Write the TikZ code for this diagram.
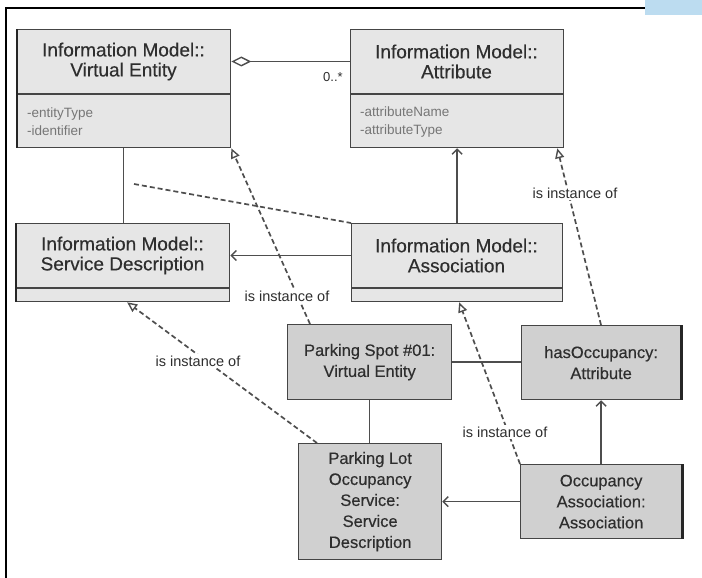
\documentclass[tikz,border=0pt]{standalone}
\usepackage{fontspec}
\setmainfont{Liberation Sans}
\newfontfamily\heavysans[FakeBold=0.35]{Liberation Sans}
\usetikzlibrary{arrows.meta}

\definecolor{boxline}{HTML}{454545}
\definecolor{modelfill}{HTML}{E6E6E6}
\definecolor{instfill}{HTML}{D0D0D0}
\definecolor{titletext}{HTML}{2E2E2E}
\definecolor{attrtext}{HTML}{767676}
\definecolor{linkgray}{HTML}{4E4E4E}
\definecolor{tabblue}{HTML}{BCDCF0}

\tikzset{
  modelbox/.style={draw=boxline, fill=modelfill, line width=1.3pt, inner sep=0pt,
    anchor=north west, rectangle},
  instbox/.style={draw=boxline, fill=instfill, line width=1.3pt, inner sep=0pt,
    anchor=north west, rectangle, align=center, text=titletext,
    font=\heavysans\fontsize{16.5}{21}\selectfont},
  classtitle/.style={align=center, text=titletext, inner sep=0pt,
    font=\heavysans\fontsize{19}{20}\selectfont},
  attrlist/.style={align=left, anchor=west, text=attrtext, inner sep=0pt,
    font=\fontsize{13.5}{18}\selectfont},
  divider/.style={draw=boxline, line width=1.4pt},
  thickedge/.style={draw=black!85, line width=2.6pt},
  solidlink/.style={draw=linkgray, line width=1.4pt},
  navarrow/.style={solidlink, -{Straight Barb[length=5pt, width=10pt, line width=1.4pt]}},
  aggregation/.style={solidlink, {Diamond[open, length=20pt, width=10pt, line width=1.4pt]}-},
  instanceof/.style={draw=linkgray, line width=1.7pt, dash pattern=on 5pt off 3pt,
    -{Triangle[open, length=10pt, width=9pt, line width=1.4pt]}},
  assocclass/.style={draw=linkgray, line width=1.7pt, dash pattern=on 5pt off 3pt},
  lbl/.style={fill=white, inner sep=1.5pt, text=titletext,
    font=\fontsize{14.5}{16}\selectfont},
}

\begin{document}
\begin{tikzpicture}[x=1pt, y=-1pt]
  \useasboundingbox (0,0) rectangle (702,578);

  % page frame and tab
  \fill[tabblue] (645,0) rectangle (702,15);
  \draw[line width=1.5pt] (6,578) -- (6,8) -- (645,8);

  % --- information model classes ---
  \node[modelbox, minimum width=213pt, minimum height=118pt] (ve) at (17,29) {};
  \draw[divider] (17,94) -- (230,94);
  \node[classtitle] (vet) at (123.5,61.5) {Information Model::\\Virtual Entity};
  \node[attrlist] (vea) at (27,122) {-entityType\\-identifier};

  \node[modelbox, minimum width=213pt, minimum height=118pt] (attr) at (350,29) {};
  \draw[divider] (350,94) -- (563,94);
  \node[classtitle] (attrt) at (456.5,61.5) {Information Model::\\Attribute};
  \node[attrlist] (attra) at (360,122) {-attributeName\\-attributeType};

  \node[modelbox, minimum width=213pt, minimum height=78pt] (sd) at (16,223) {};
  \draw[divider] (16,288) -- (229,288);
  \node[classtitle] (sdt) at (122.5,255.5) {Information Model::\\Service Description};

  \node[modelbox, minimum width=211pt, minimum height=78pt] (assoc) at (351,223) {};
  \draw[divider] (351,288) -- (562,288);
  \node[classtitle] (assoct) at (456.5,255.5) {Information Model::\\Association};

  % --- instances ---
  \node[instbox, minimum width=164pt, minimum height=75pt] (ps) at (287,324)
    {Parking Spot \#01:\\Virtual Entity};
  \node[instbox, minimum width=159pt, minimum height=74pt] (hocc) at (521,325)
    {hasOccupancy:\\Attribute};
  \node[instbox, minimum width=143pt, minimum height=116pt] (plot) at (298,443)
    {Parking Lot\\Occupancy\\Service:\\Service\\Description};
  \node[instbox, minimum width=161pt, minimum height=74pt] (oa) at (520,464)
    {Occupancy\\Association:\\Association};

  % heavier edges
  \draw[thickedge] (ve.north west) -- (ve.south west);
  \draw[thickedge] (sd.north west) -- (sd.south west);
  \draw[thickedge] (hocc.north east) -- (hocc.south east);
  \draw[thickedge] (oa.north east) -- (oa.south east);

  % --- model relations ---
  \draw[aggregation] (ve.east |- vet) -- (attr.west |- vet);
  \node[font=\fontsize{13}{14}\selectfont, text=titletext, inner sep=0pt] (mult) at (333,77) {0..*};
  \draw[solidlink] (ve.south -| vet) -- (sd.north -| vet);
  \coordinate (acl) at (134,184);
  \draw[assocclass] (acl) -- (assoc.north west);
  \draw[navarrow] (assoc.west |- sdt) -- (sd.east |- sdt);
  \draw[navarrow] (assoc.north) -- (assoc.north |- attr.south);

  % --- instance relations ---
  \draw[solidlink] (ps.east) -- (ps.east -| hocc.west);
  \draw[solidlink] (ps.south) -- (ps.south |- plot.north);
  \draw[navarrow] (oa.west) -- (oa.west -| plot.east);
  \draw[navarrow] (oa.north) -- (oa.north |- hocc.south);

  % --- instance-of links ---
  \draw[instanceof] ([xshift=23pt]ps.north west) -- (ve.south east);
  \draw[instanceof] ([xshift=80pt]hocc.north west) -- ([xshift=-7pt]attr.south east);
  \draw[instanceof] (oa.north west) -- ([xshift=2pt]assoc.south);
  \draw[instanceof] ([xshift=19pt]plot.north west) -- ([xshift=4pt]sd.south);

  \node[lbl] (l1) at (287,296) {is instance of};
  \node[lbl] (l2) at (575,193) {is instance of};
  \node[lbl] (l3) at (505,432) {is instance of};
  \node[lbl] (l4) at (198,361) {is instance of};
\end{tikzpicture}
\end{document}
